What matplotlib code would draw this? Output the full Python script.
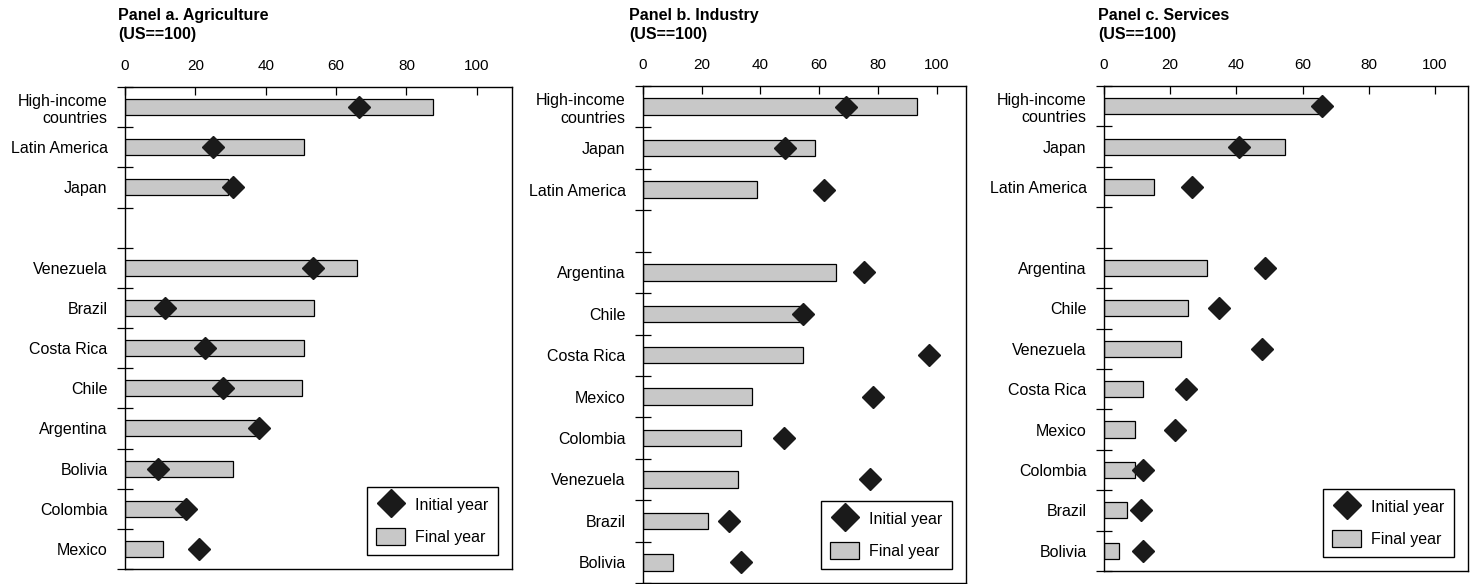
import matplotlib
matplotlib.use("agg")
import matplotlib.pyplot as plt
from matplotlib.lines import Line2D
from matplotlib.patches import Patch
import numpy as np

plt.rcParams["font.family"] = ["Liberation Sans", "DejaVu Sans"]

# aggregates shown above the gap, individual countries below it
agri_groups = ["High-income\ncountries", "Latin America", "Japan"]
agri_groups_final = [87.5, 50.9, 29.2]
agri_groups_initial = [66.6, 25.1, 30.6]
agri_countries = ["Venezuela", "Brazil", "Costa Rica", "Chile", "Argentina",
                  "Bolivia", "Colombia", "Mexico"]
agri_final = [65.9, 53.8, 50.8, 50.4, 37.5, 30.6, 16.5, 10.9]
agri_initial = [53.5, 11.3, 22.6, 27.9, 38.0, 9.5, 17.2, 21.1]

ind_groups = ["High-income\ncountries", "Japan", "Latin America"]
ind_groups_final = [93.4, 58.5, 38.9]
ind_groups_initial = [69.3, 48.5, 61.6]
ind_countries = ["Argentina", "Chile", "Costa Rica", "Mexico", "Colombia",
                 "Venezuela", "Brazil", "Bolivia"]
ind_final = [65.7, 54.2, 54.4, 37.0, 33.3, 32.3, 22.2, 10.1]
ind_initial = [75.2, 54.4, 97.3, 78.4, 47.9, 77.3, 29.2, 33.3]

serv_groups = ["High-income\ncountries", "Japan", "Latin America"]
serv_groups_final = [65.0, 54.7, 15.1]
serv_groups_initial = [65.9, 40.9, 26.5]
serv_countries = ["Argentina", "Chile", "Venezuela", "Costa Rica", "Mexico",
                  "Colombia", "Brazil", "Bolivia"]
serv_final = [31.2, 25.3, 23.3, 11.8, 9.4, 9.3, 7.0, 4.6]
serv_initial = [48.7, 34.7, 47.8, 24.7, 21.4, 11.7, 11.2, 11.8]

titles = ["Panel a. Agriculture\n(US==100)",
          "Panel b. Industry\n(US==100)",
          "Panel c. Services\n(US==100)"]

W, H = 1472, 584
BAR_COLOR = "#c8c8c8"
DIAMOND = "#1a1a1a"


def draw_panel(ax, groups, groups_final, groups_initial,
               countries, final, initial):
    names = groups + countries
    fin = groups_final + final
    ini = groups_initial + initial
    # leave one empty row between the aggregates and the countries
    ypos = list(range(len(groups))) + \
        list(range(len(groups) + 1, len(groups) + 1 + len(countries)))
    nrows = len(groups) + 1 + len(countries)

    ax.barh(ypos, fin, height=0.4, color=BAR_COLOR, edgecolor="black",
            linewidth=0.9, zorder=2)
    ax.plot(ini, ypos, linestyle="none", marker="D", markersize=10.7,
            color=DIAMOND, markeredgecolor=DIAMOND, zorder=3)

    ax.set_xlim(0, 110)
    ax.set_ylim(nrows - 0.5, -0.5)
    ax.xaxis.tick_top()
    ax.set_xticks([0, 20, 40, 60, 80, 100])
    ax.tick_params(axis="x", direction="in", length=6, width=0.9,
                   pad=10, labelsize=11)

    ax.set_yticks(ypos)
    ax.set_yticklabels(names, fontsize=11.5)
    ax.set_yticks(np.arange(-0.5, nrows, 1.0), minor=True)
    ax.tick_params(axis="y", which="major", length=0, pad=12.5)
    ax.tick_params(axis="y", which="minor", direction="inout", length=11.5,
                   width=0.9)
    for s in ax.spines.values():
        s.set_linewidth(1.0)

    handles = [Line2D([], [], linestyle="none", marker="D", markersize=14,
                      color=DIAMOND),
               Patch(facecolor=BAR_COLOR, edgecolor="black", linewidth=0.9)]
    leg = ax.legend(handles, ["Initial year", "Final year"], loc="lower right",
                    fontsize=11.5, frameon=True, fancybox=False, framealpha=1,
                    edgecolor="black", handlelength=1.8, handleheight=1.25,
                    labelspacing=0.95, handletextpad=0.6, borderpad=0.6,
                    borderaxespad=0.9)
    leg.get_frame().set_linewidth(1.0)


fig = plt.figure(figsize=(W / 100, H / 100), dpi=100)

# axes boxes in pixels: left, right, top, bottom
boxes = [(125, 512, 87, 569), (643, 966, 86, 583), (1104, 1468, 86, 571)]
title_x = [118, 629, 1098]
panels = [
    (agri_groups, agri_groups_final, agri_groups_initial,
     agri_countries, agri_final, agri_initial),
    (ind_groups, ind_groups_final, ind_groups_initial,
     ind_countries, ind_final, ind_initial),
    (serv_groups, serv_groups_final, serv_groups_initial,
     serv_countries, serv_final, serv_initial),
]

for (l, r, t, b), tx, title, data in zip(boxes, title_x, titles, panels):
    ax = fig.add_axes([l / W, (H - b) / H, (r - l) / W, (b - t) / H])
    draw_panel(ax, *data)
    fig.text(tx / W, 1 - 8 / H, title, fontsize=11.5, fontweight="bold",
             ha="left", va="top", linespacing=1.35)

fig.savefig("out.png", dpi=100)
